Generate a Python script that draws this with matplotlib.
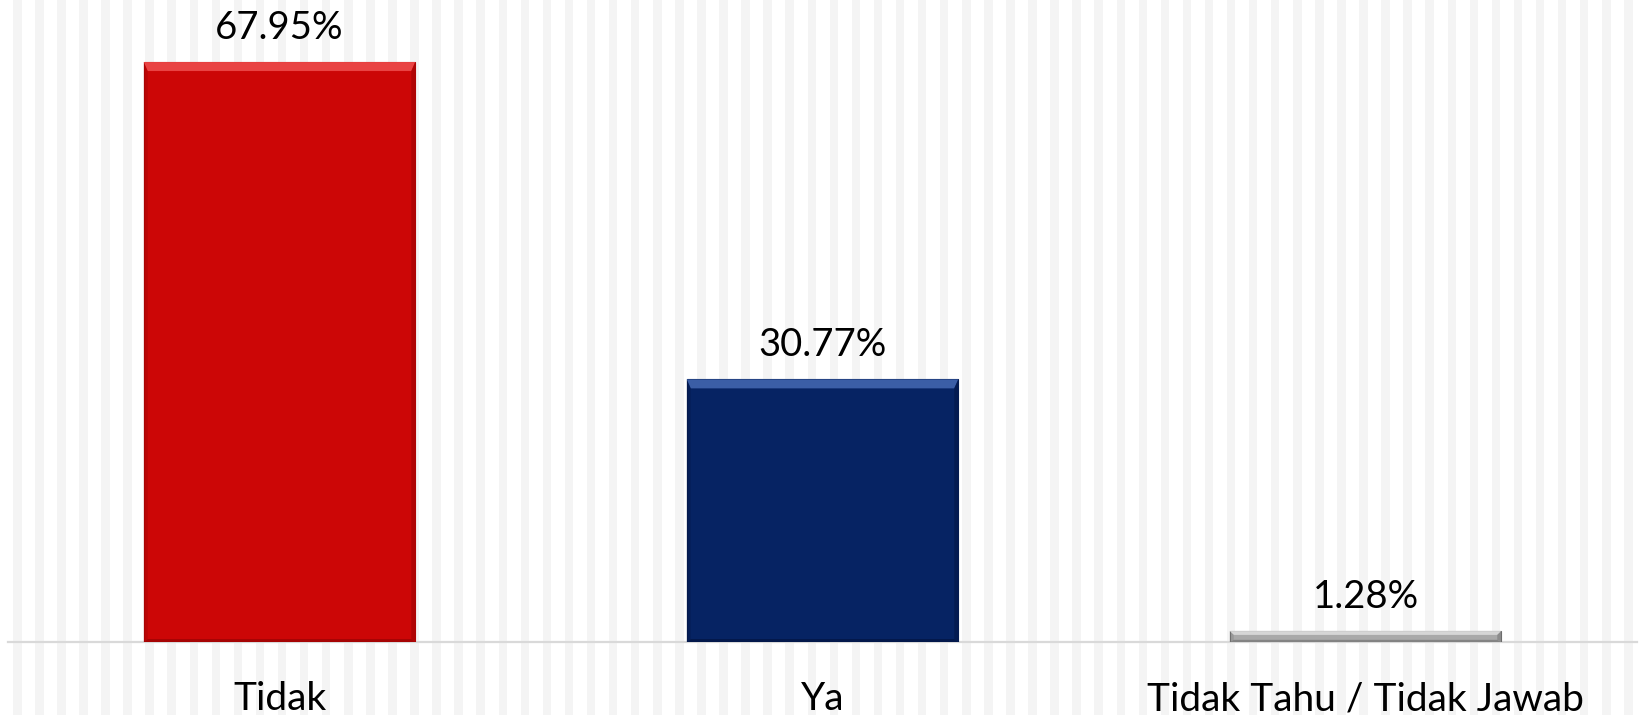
import numpy as np
import matplotlib
matplotlib.use("Agg")
import matplotlib.pyplot as plt
from matplotlib.patches import Rectangle, Polygon

categories = ["Tidak", "Ya", "Tidak Tahu / Tidak Jawab"]
values = [67.95, 30.77, 1.28]
value_labels = ["67.95%", "30.77%", "1.28%"]

# face, top highlight, side/bottom shade, edge
face_colors = ["#cc0606", "#062363", "#a9a9a9"]
top_colors = ["#e94343", "#3b5ea6", "#d6d6d6"]
shade_colors = ["#9e0404", "#031646", "#7a7a7a"]
edge_colors = ["#b00505", "#051c52", "#6a6a6a"]

W, H, DPI = 1642, 715, 100
plt.rcParams["font.family"] = ["Lato", "DejaVu Sans"]

fig = plt.figure(figsize=(W / DPI, H / DPI), dpi=DPI, facecolor="white")

# background pattern of thin vertical stripes
x = 13.0
while x < 1625:
    fig.patches.append(Rectangle((x / W, 0), 8.5 / W, 1, transform=fig.transFigure,
                                 facecolor="#f4f4f4", edgecolor="none", zorder=-10))
    x += 22.07

ax = fig.add_axes([8 / W, (H - 642) / H, 1629 / W, 642 / H])
ax.set_zorder(5)
ax.set_facecolor("none")
ax.set_xlim(-0.5, 2.5)
ax.set_ylim(0, 642 / 8.535)

xs = np.arange(len(categories))
bw = 0.5
bars = ax.bar(xs, values, width=bw, color=face_colors, edgecolor=edge_colors,
              linewidth=0.8, zorder=3)

# bevel effect
px_x = 3.0 / 1629
px_y = (642 / 8.535) / 642
for b, tc, sc in zip(bars, top_colors, shade_colors):
    x0, x1 = b.get_x(), b.get_x() + b.get_width()
    h = b.get_height()
    bt = min(9 * px_y, h * 0.35)
    bb = min(3 * px_y, h * 0.2)
    bs = 4 * px_x
    ax.add_patch(Polygon([(x0, h), (x1, h), (x1 - bs, h - bt), (x0 + bs, h - bt)],
                         closed=True, facecolor=tc, edgecolor="none", zorder=4))
    ax.add_patch(Polygon([(x1, h), (x1, 0), (x1 - bs, bb), (x1 - bs, h - bt)],
                         closed=True, facecolor=sc, edgecolor="none", zorder=4, alpha=0.6))
    ax.add_patch(Polygon([(x0, h), (x0, 0), (x0 + bs, bb), (x0 + bs, h - bt)],
                         closed=True, facecolor=sc, edgecolor="none", zorder=4, alpha=0.35))
    ax.add_patch(Polygon([(x0, 0), (x1, 0), (x1 - bs, bb), (x0 + bs, bb)],
                         closed=True, facecolor=sc, edgecolor="none", zorder=4, alpha=0.8))

for xi, v, lab in zip(xs, values, value_labels):
    ax.annotate(lab, (xi, v), xytext=(0, 16.5), textcoords="offset points",
                ha="center", va="baseline", fontsize=27.5, color="black")

for s in ["top", "left", "right"]:
    ax.spines[s].set_visible(False)
ax.spines["bottom"].set_color("#d9d9d9")
ax.spines["bottom"].set_linewidth(1.6)
ax.spines["bottom"].set_zorder(2)
ax.set_yticks([])
ax.set_xticks(xs)
ax.set_xticklabels(categories, fontsize=28, va="baseline")
ax.tick_params(axis="x", length=0, pad=49)

fig.savefig("out.png", dpi=DPI, facecolor="white")
